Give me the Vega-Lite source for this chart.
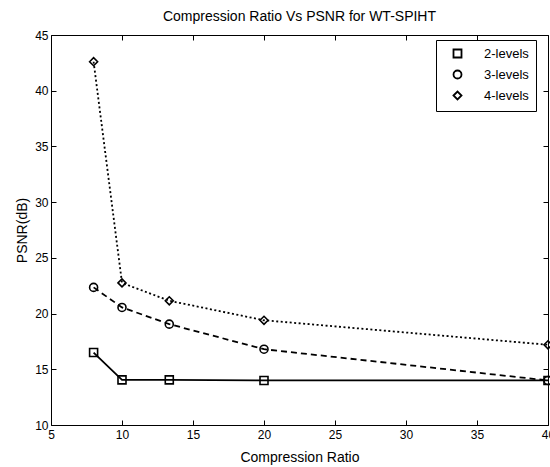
{
  "$schema": "https://vega.github.io/schema/vega-lite/v6.json",
  "width": 497,
  "height": 390,
  "autosize": {"type": "none"},
  "padding": {"left": 51, "top": 35, "right": 2, "bottom": 42},
  "background": "white",
  "title": {
    "text": "Compression Ratio Vs PSNR for WT-SPIHT",
    "font": "Liberation Sans",
    "fontSize": 14,
    "fontWeight": "normal",
    "color": "black",
    "anchor": "middle",
    "frame": "group",
    "offset": 5
  },
  "data": {
    "values": [
      {"ratio": 8, "psnr": 16.5, "series": "2-levels"},
      {"ratio": 10, "psnr": 14.05, "series": "2-levels"},
      {"ratio": 13.33, "psnr": 14.05, "series": "2-levels"},
      {"ratio": 20, "psnr": 14.0, "series": "2-levels"},
      {"ratio": 40, "psnr": 14.0, "series": "2-levels"},
      {"ratio": 8, "psnr": 22.35, "series": "3-levels"},
      {"ratio": 10, "psnr": 20.55, "series": "3-levels"},
      {"ratio": 13.33, "psnr": 19.05, "series": "3-levels"},
      {"ratio": 20, "psnr": 16.8, "series": "3-levels"},
      {"ratio": 40, "psnr": 14.0, "series": "3-levels"},
      {"ratio": 8, "psnr": 42.6, "series": "4-levels"},
      {"ratio": 10, "psnr": 22.75, "series": "4-levels"},
      {"ratio": 13.33, "psnr": 21.15, "series": "4-levels"},
      {"ratio": 20, "psnr": 19.4, "series": "4-levels"},
      {"ratio": 40, "psnr": 17.2, "series": "4-levels"}
    ]
  },
  "layer": [
    {
      "transform": [{"filter": "datum.series == '2-levels'"}],
      "mark": {"type": "line", "color": "black", "strokeWidth": 1.8, "clip": false},
      "encoding": {
        "x": {
          "field": "ratio", "type": "quantitative",
          "scale": {"domain": [5, 40], "nice": false, "zero": false},
          "axis": {"orient": "bottom", "values": [5, 10, 15, 20, 25, 30, 35, 40], "title": "Compression Ratio", "titlePadding": 10, "labelPadding": 9, "labelFlush": false}
        },
        "y": {
          "field": "psnr", "type": "quantitative",
          "scale": {"domain": [10, 45], "nice": false, "zero": false},
          "axis": {"orient": "left", "values": [10, 15, 20, 25, 30, 35, 40, 45], "title": "PSNR(dB)", "titlePadding": 5, "labelPadding": 8, "labelFlush": false}
        }
      }
    },
    {
      "transform": [{"filter": "datum.series == '3-levels'"}],
      "mark": {"type": "line", "color": "black", "strokeWidth": 1.8, "strokeDash": [6, 4], "clip": false},
      "encoding": {
        "x": {"field": "ratio", "type": "quantitative", "axis": null},
        "y": {"field": "psnr", "type": "quantitative", "axis": null}
      }
    },
    {
      "transform": [{"filter": "datum.series == '4-levels'"}],
      "mark": {"type": "line", "color": "black", "strokeWidth": 1.8, "strokeDash": [2, 2.5], "clip": false},
      "encoding": {
        "x": {"field": "ratio", "type": "quantitative", "axis": null},
        "y": {"field": "psnr", "type": "quantitative", "axis": null}
      }
    },
    {
      "mark": {"type": "point", "filled": false, "color": "black", "strokeWidth": 1.6, "size": 64, "opacity": 1, "clip": false},
      "encoding": {
        "x": {
          "field": "ratio", "type": "quantitative",
          "axis": {"orient": "top", "values": [5, 10, 15, 20, 25, 30, 35, 40], "labels": false, "title": null}
        },
        "y": {
          "field": "psnr", "type": "quantitative",
          "axis": {"orient": "right", "values": [10, 15, 20, 25, 30, 35, 40, 45], "labels": false, "title": null}
        },
        "shape": {
          "field": "series", "type": "nominal",
          "scale": {"domain": ["2-levels", "3-levels", "4-levels"], "range": ["square", "circle", "diamond"]},
          "legend": {
            "title": null,
            "orient": "none",
            "legendX": 385,
            "legendY": 5,
            "padding": 7,
            "strokeColor": "black",
            "fillColor": "white",
            "symbolSize": 64,
            "symbolStrokeColor": "black",
            "symbolFillColor": "transparent",
            "symbolStrokeWidth": 1.8,
            "symbolOffset": 8,
            "labelOffset": 20,
            "labelFont": "Liberation Sans",
            "labelFontSize": 13,
            "labelColor": "black",
            "rowPadding": 4
          }
        }
      }
    }
  ],
  "resolve": {"axis": {"x": "independent", "y": "independent"}},
  "config": {
    "view": {"stroke": "black", "strokeWidth": 1},
    "axis": {
      "grid": false,
      "domain": false,
      "ticks": true,
      "tickSize": -5,
      "tickColor": "black",
      "tickWidth": 1,
      "labelFont": "Liberation Sans",
      "labelFontSize": 12,
      "labelColor": "black",
      "titleFont": "Liberation Sans",
      "titleFontSize": 14,
      "titleFontWeight": "normal",
      "titleColor": "black"
    }
  }
}
